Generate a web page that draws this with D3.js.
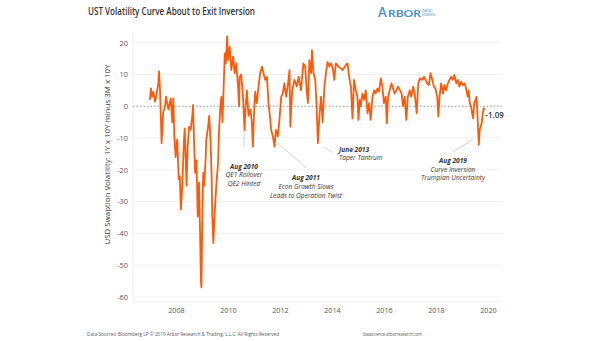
<!DOCTYPE html>
<html>
<head>
<meta charset="utf-8">
<script src="https://cdn.jsdelivr.net/npm/d3@7"></script>
<style>
  html, body { margin: 0; padding: 0; background: #fff; }
  svg { display: block; font-family: "Open Sans", "DejaVu Sans", sans-serif; }
</style>
</head>
<body>
<svg id="chart" width="605" height="341"></svg>
<script>
// decimal years and values
const years = [
  2007.00, 2007.04, 2007.08, 2007.13, 2007.20, 2007.26, 2007.32, 2007.35, 2007.39, 2007.45,
  2007.51, 2007.58, 2007.62, 2007.71, 2007.80, 2007.86, 2007.90, 2007.94, 2007.99, 2008.05,
  2008.11, 2008.15, 2008.19, 2008.24, 2008.31, 2008.34, 2008.41, 2008.45, 2008.51, 2008.57,
  2008.63, 2008.66, 2008.70, 2008.74, 2008.79, 2008.84, 2008.89, 2008.93, 2008.96, 2008.98,
  2009.02, 2009.05, 2009.09, 2009.14, 2009.17, 2009.24, 2009.28, 2009.33, 2009.37, 2009.40,
  2009.44, 2009.49, 2009.56, 2009.62, 2009.66, 2009.71, 2009.75, 2009.79, 2009.84, 2009.88,
  2009.92, 2009.97, 2010.01, 2010.07, 2010.13, 2010.20, 2010.26, 2010.32, 2010.39, 2010.43,
  2010.45, 2010.51, 2010.58, 2010.64, 2010.68, 2010.73, 2010.79, 2010.86, 2010.92, 2010.96,
  2011.00, 2011.05, 2011.11, 2011.19, 2011.24, 2011.31, 2011.37, 2011.43, 2011.50, 2011.56,
  2011.63, 2011.66, 2011.73, 2011.79, 2011.85, 2011.92, 2011.98, 2012.05, 2012.11, 2012.17,
  2012.24, 2012.30, 2012.37, 2012.40, 2012.47, 2012.56, 2012.65, 2012.72, 2012.81, 2012.90,
  2012.97, 2013.03, 2013.08, 2013.13, 2013.20, 2013.23, 2013.29, 2013.36, 2013.41, 2013.46,
  2013.52, 2013.58, 2013.64, 2013.71, 2013.77, 2013.83, 2013.90, 2013.96, 2014.03, 2014.09,
  2014.15, 2014.26, 2014.41, 2014.54, 2014.60, 2014.66, 2014.73, 2014.79, 2014.85, 2014.92,
  2014.98, 2015.02, 2015.07, 2015.11, 2015.17, 2015.24, 2015.30, 2015.37, 2015.43, 2015.49,
  2015.56, 2015.62, 2015.68, 2015.75, 2015.81, 2015.88, 2015.94, 2016.00, 2016.07, 2016.11,
  2016.16, 2016.22, 2016.29, 2016.35, 2016.41, 2016.48, 2016.54, 2016.62, 2016.68, 2016.73,
  2016.80, 2016.86, 2016.92, 2016.99, 2017.05, 2017.12, 2017.19, 2017.26, 2017.32, 2017.38,
  2017.47, 2017.54, 2017.60, 2017.66, 2017.73, 2017.79, 2017.86, 2017.92, 2017.98, 2018.05,
  2018.09, 2018.14, 2018.20, 2018.27, 2018.33, 2018.39, 2018.46, 2018.52, 2018.59, 2018.65,
  2018.71, 2018.78, 2018.84, 2018.90, 2018.97, 2019.03, 2019.10, 2019.16, 2019.22, 2019.26,
  2019.30, 2019.35, 2019.39, 2019.43, 2019.47, 2019.52, 2019.56, 2019.59, 2019.62, 2019.65,
  2019.68, 2019.72, 2019.76, 2019.80, 2019.84, 2019.86
];
const values = [
  2, 5.6, 3, 4.5, 1.5, 4, 7, 11, 5, -11.6,
  -2, 0, 3, -1, 2.5, -5, 2.5, -9.5, -16, -10.5,
  -23, -22, -32.5, -26, -10.5, -7, -25, -13, -6.4, -7.4,
  -3, 0.4, -11.6, -21, -17, -34.7, -24, -40, -54.5, -57,
  -32.5, -21, -25, -17, -10.5, -6.4, -3, -10.5, -21, -34.7,
  -43, -33.6, -24, -18, -7.4, 0, 3, -5, 7, 16.6,
  13.5, 22, 14.5, 18.7, 11.4, 15.6, 10.4, 13.5, 6.2, 0,
  9.3, 10, 3, -7.5, 0, 5, -3, -1, -5, -12.7,
  -3, 4.6, 1, 7.2, 10.4, 12.5, 10.4, 8.3, 9.3, 1,
  -4.3, -7.4, -9.5, -12.7, -7.4, -9.5, -4.3, 3, 4, 7.2,
  3, 6.2, 11.4, -6.4, 5, 8.3, 6.2, 9.3, 5, 13.5,
  12.5, 5, 1, 14.5, 10.4, 17.7, 10.4, 8.3, 0, -11.6,
  -3, 3, -5, 6.2, 10.4, 14, 12.5, 13.5, 12, 8.3,
  13.5, 12.5, 11.4, 13, 13.5, 9.3, 6.2, -3.8, 8.3, 5,
  3, -4.3, 2, 0, 4, 2, 5, -2.2, 1, -4.3,
  3, 5, 4, 5.6, 4.6, 8.8, 6.2, 1, 3, -5.3,
  3, 5, 7.2, 5.6, 4, 5, 6.2, 5, 4, 0,
  3, -4.3, 3, 5, 3, 6.2, 3.6, -2.2, 7.2, 8.8,
  8.3, 9.3, 8.3, 7.2, 6.7, 10.4, 8.3, 6.2, 5.6, 3,
  -3.2, 3, 7.2, 4, 6.7, 5, 7.2, 8.3, 9.3, 8.3,
  9.8, 7.2, 8.3, 6.2, 7.7, 6.7, 7.2, 5.6, 3, 5,
  1, 0, -2.2, -3.8, 1, 2, 3, -1.2, -7.4, -12.1,
  -7.4, -6.4, -5.3, -2.2, -0.6, -1.09
];
const xTicks = [2008, 2010, 2012, 2014, 2016, 2018, 2020];
const yTicks = [20, 10, 0, -10, -20, -30, -40, -50, -60];

// annotations: anchor text position and connector line
const notes = [
  { lines: ["Aug 2010", "QE1 Rollover", "QE2 Hinted"], x: 244, y: 168.5, anchor: "middle", line: [244, 132, 244, 147] },
  { lines: ["Aug 2011", "Econ Growth Slows", "Leads to Operation Twist"], x: 306, y: 180.3, anchor: "middle", line: [278, 143, 306, 168] },
  { lines: ["June 2013", "Taper Tantrum"], x: 339, y: 151.5, anchor: "start", line: [324, 147, 333, 152.5] },
  { lines: ["Aug 2019", "Curve Inversion", "Trumpian Uncertainty"], x: 453, y: 163.2, anchor: "middle", line: [453, 152, 473, 139] }
];

const svg = d3.select("#chart");
const margin = { left: 133, right: 103, top: 31.6, bottom: 39 };
const W = 605, H = 341;

const x = d3.scaleLinear()
  .domain([2006.35, 2020.54])
  .range([margin.left, W - margin.right]);

const y = d3.scaleLinear()
  .domain([-61.6, 23.5])
  .range([H - margin.bottom, margin.top]);

// gridlines
svg.append("g")
  .selectAll("line")
  .data(yTicks)
  .join("line")
  .attr("x1", x.range()[0])
  .attr("x2", x.range()[1])
  .attr("y1", d => y(d))
  .attr("y2", d => y(d))
  .attr("stroke", d => d === 0 ? "none" : "#f1f1f1")
  .attr("stroke-width", 1);

// plot border left / bottom
svg.append("line")
  .attr("x1", x.range()[0]).attr("x2", x.range()[0])
  .attr("y1", y.range()[1]).attr("y2", y.range()[0])
  .attr("stroke", "#eeeeee");
svg.append("line")
  .attr("x1", x.range()[0]).attr("x2", x.range()[1])
  .attr("y1", y.range()[0]).attr("y2", y.range()[0])
  .attr("stroke", "#eeeeee");

// y axis
const yAxis = d3.axisLeft(y)
  .tickValues(yTicks)
  .tickFormat(d => String(d))
  .tickSize(0)
  .tickPadding(5);
svg.append("g")
  .attr("transform", `translate(${margin.left},0)`)
  .call(yAxis)
  .call(g => g.select(".domain").remove())
  .selectAll("text")
  .attr("font-size", 7.4)
  .attr("font-family", "Open Sans, sans-serif")
  .attr("fill", "#555");

// x axis
const xAxis = d3.axisBottom(x)
  .tickValues(xTicks)
  .tickFormat(d3.format("d"))
  .tickSize(0)
  .tickPadding(6);
svg.append("g")
  .attr("transform", `translate(0,${y.range()[0]})`)
  .call(xAxis)
  .call(g => g.select(".domain").remove())
  .selectAll("text")
  .attr("font-size", 7.2)
  .attr("font-family", "Open Sans, sans-serif")
  .attr("fill", "#555");

// zero reference line
svg.append("line")
  .attr("x1", x.range()[0])
  .attr("x2", x.range()[1])
  .attr("y1", y(0))
  .attr("y2", y(0))
  .attr("stroke", "#8a8a8a")
  .attr("stroke-width", 0.9)
  .attr("stroke-dasharray", "1.5,2");

// annotation connectors (behind the series)
svg.append("g")
  .selectAll("line")
  .data(notes)
  .join("line")
  .attr("x1", d => d.line[0])
  .attr("y1", d => d.line[1])
  .attr("x2", d => d.line[2])
  .attr("y2", d => d.line[3])
  .attr("stroke", "#c8c8c8")
  .attr("stroke-width", 0.8);

// series
const data = years.map((yr, i) => ({ yr, v: values[i] }));
const line = d3.line()
  .x(d => x(d.yr))
  .y(d => y(d.v));

svg.append("path")
  .datum(data)
  .attr("d", line)
  .attr("fill", "none")
  .attr("stroke", "#ff5a0a")
  .attr("stroke-width", 1.8)
  .attr("stroke-linejoin", "round");

// end label
const last = data[data.length - 1];
svg.append("text")
  .attr("x", x(last.yr) + 1)
  .attr("y", y(last.v) + 8.5)
  .attr("font-size", 8)
  .attr("font-weight", 600)
  .attr("fill", "#333")
  .text(last.v.toFixed(2));

// annotation text
notes.forEach(n => {
  const t = svg.append("text")
    .attr("x", n.x)
    .attr("y", n.y)
    .attr("text-anchor", n.anchor)
    .attr("font-size", 6.6)
    .attr("font-style", "italic")
    .attr("fill", "#333");
  n.lines.forEach((s, i) => {
    t.append("tspan")
      .attr("x", n.x)
      .attr("dy", i === 0 ? 0 : 8.6)
      .attr("font-weight", i === 0 ? 700 : 400)
      .text(s);
  });
});

// axis title
svg.append("text")
  .attr("transform", `translate(110,${154.5}) rotate(-90)`)
  .attr("text-anchor", "middle")
  .attr("font-size", 7)
  .attr("fill", "#333")
  .attr("textLength", 180)
  .attr("lengthAdjust", "spacingAndGlyphs")
  .text("USD Swaption Volatility: 1Y x 10Y minus 3M x 10Y");

// title
svg.append("text")
  .attr("x", 88)
  .attr("y", 15)
  .attr("font-size", 10.5)
  .attr("font-weight", 600)
  .attr("fill", "#333")
  .attr("textLength", 167)
  .attr("lengthAdjust", "spacingAndGlyphs")
  .text("UST Volatility Curve About to Exit Inversion");

// logo
const logo = svg.append("g").attr("fill", "#4a8fcd").attr("font-family", "Lato, sans-serif").attr("font-weight", 700);
logo.append("text")
  .attr("x", 378).attr("y", 16.8)
  .attr("font-size", 12.5)
  .text("A");
logo.append("text")
  .attr("x", 388).attr("y", 16.8)
  .attr("font-size", 9.8)
  .attr("textLength", 33)
  .attr("lengthAdjust", "spacingAndGlyphs")
  .text("RBOR");
logo.append("text")
  .attr("x", 422).attr("y", 12)
  .attr("font-size", 3.6)
  .attr("font-weight", 400)
  .text("DATA");
logo.append("text")
  .attr("x", 422).attr("y", 16.2)
  .attr("font-size", 3.2)
  .attr("font-weight", 400)
  .text("SCIENCE");

// footer
svg.append("text")
  .attr("x", 87).attr("y", 335.8)
  .attr("font-size", 5)
  .attr("fill", "#555")
  .attr("textLength", 192)
  .attr("lengthAdjust", "spacingAndGlyphs")
  .text("Data Sources: Bloomberg LP © 2019 Arbor Research & Trading, L.L.C. All Rights Reserved");
svg.append("text")
  .attr("x", 363).attr("y", 335.8)
  .attr("font-size", 5)
  .attr("fill", "#555")
  .attr("textLength", 59)
  .attr("lengthAdjust", "spacingAndGlyphs")
  .text("datascience.arborresearch.com");
</script>
</body>
</html>
